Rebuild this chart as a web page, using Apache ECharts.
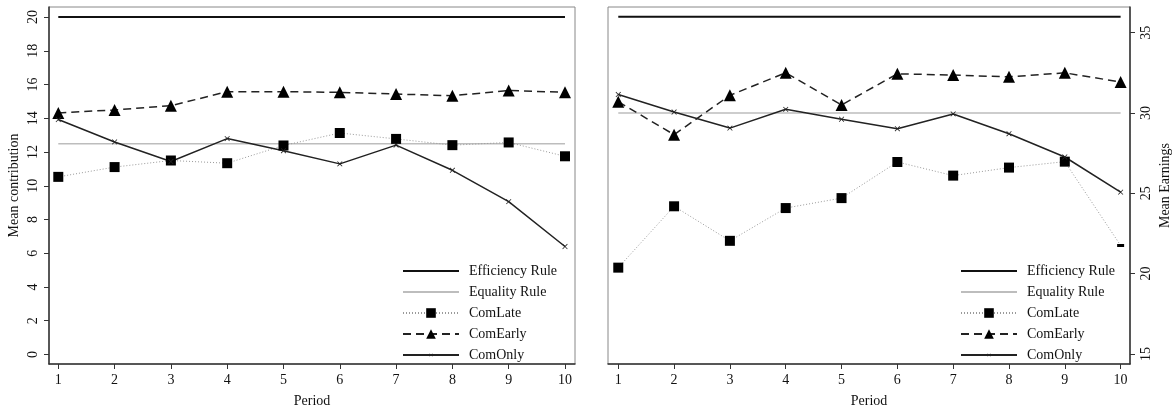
<!DOCTYPE html>
<html>
<head>
<meta charset="utf-8">
<script src="https://cdn.jsdelivr.net/npm/echarts@6/dist/echarts.min.js"></script>
<style>
  html, body { margin: 0; padding: 0; background: #fff; }
  #chart { width: 1173px; height: 413px; }
</style>
</head>
<body>
<div id="chart"></div>
<script>
// values
const periods = [1, 2, 3, 4, 5, 6, 7, 8, 9, 10]
const names = ["Efficiency Rule", "Equality Rule", "ComLate", "ComEarly", "ComOnly"]

const contribEfficiency = [20, 20, 20, 20, 20, 20, 20, 20, 20, 20]
const contribEquality = [12.5, 12.5, 12.5, 12.5, 12.5, 12.5, 12.5, 12.5, 12.5, 12.5]
const contribComLate = [10.53, 11.11, 11.5, 11.34, 12.39, 13.13, 12.78, 12.41, 12.57, 11.75]
const contribComEarly = [14.32, 14.5, 14.75, 15.58, 15.58, 15.54, 15.44, 15.34, 15.65, 15.54]
const contribComOnly = [13.93, 12.6, 11.44, 12.8, 12.08, 11.3, 12.41, 10.92, 9.06, 6.4]

const earnEfficiency = [36, 36, 36, 36, 36, 36, 36, 36, 36, 36]
const earnEquality = [30, 30, 30, 30, 30, 30, 30, 30, 30, 30]
const earnComLate = [20.37, 24.19, 22.04, 24.08, 24.7, 26.95, 26.1, 26.6, 26.97, 21.75]
const earnComEarly = [30.7, 28.65, 31.1, 32.5, 30.5, 32.44, 32.36, 32.25, 32.5, 31.93]
const earnComOnly = [31.15, 30.06, 29.06, 30.23, 29.61, 29.02, 29.94, 28.71, 27.26, 25.07]

const contribTicks = [0, 2, 4, 6, 8, 10, 12, 14, 16, 18, 20]
const earnTicks = [15, 20, 25, 30, 35]

const font = "Liberation Serif, Times New Roman, serif"
// small x in the middle of a 30x30 box (tiny corner specks keep the box size)
const crossPath = "path://M0,0L0.01,0L0,0.01Z M30,30L29.99,30L30,29.99Z " +
  "M10,11L11,10L15,14L19,10L20,11L16,15L20,19L19,20L15,16L11,20L10,19L14,15Z"

function pairs(vals) {
  return periods.map((p, i) => [p, vals[i]])
}

function panelSeries(idx, eff, eq, late, early, only) {
  const lateData = pairs(late)
  if (idx === 1) {
    // last ComLate marker on the right panel is drawn as a flat dash
    const last = lateData.length - 1
    lateData[last] = { value: lateData[last], symbol: "rect", symbolSize: [7, 3] }
  }
  return [
    {
      name: names[0], type: "line", xAxisIndex: idx, yAxisIndex: idx,
      data: pairs(eff), showSymbol: false, symbol: "none",
      lineStyle: { color: "#111", width: 2 }, itemStyle: { color: "#111" }
    },
    {
      name: names[1], type: "line", xAxisIndex: idx, yAxisIndex: idx,
      data: pairs(eq), showSymbol: false, symbol: "none",
      lineStyle: { color: "#bdbdbd", width: 1.5 }, itemStyle: { color: "#bdbdbd" }
    },
    {
      name: names[2], type: "line", xAxisIndex: idx, yAxisIndex: idx,
      data: lateData, symbol: "rect", symbolSize: 10,
      lineStyle: { color: "#9a9a9a", width: 1, type: [1, 2] },
      itemStyle: { color: "#000" }
    },
    {
      name: names[3], type: "line", xAxisIndex: idx, yAxisIndex: idx,
      data: pairs(early), symbol: "triangle", symbolSize: 12,
      lineStyle: { color: "#222", width: 1.5, type: [8, 5] },
      itemStyle: { color: "#000" }
    },
    {
      name: names[4], type: "line", xAxisIndex: idx, yAxisIndex: idx,
      data: pairs(only), symbol: crossPath, symbolSize: 16,
      lineStyle: { color: "#222", width: 1.5 },
      itemStyle: { color: "#222" }
    }
  ]
}

function legend(left) {
  return {
    orient: "vertical",
    left: left,
    top: 259,
    data: names.map((n, i) => i < 2 ? { name: n, itemStyle: { opacity: 0 } } : n),
    itemWidth: 56,
    itemHeight: 12,
    itemGap: 7,
    selectedMode: false,
    textStyle: { fontFamily: font, fontSize: 14, color: "#111", lineHeight: 14, padding: [0, 0, 0, 5] }
  }
}

const axisCommon = {
  type: "value",
  axisLine: { show: true, onZero: false, lineStyle: { color: "#333", width: 1.5 } },
  axisTick: { show: true, length: 5, lineStyle: { color: "#333", width: 1 } },
  splitLine: { show: false },
  axisLabel: { fontFamily: font, fontSize: 14, color: "#111" },
  nameTextStyle: { fontFamily: font, fontSize: 14, color: "#111" }
}

function xAxis(idx, min, max) {
  return Object.assign({}, axisCommon, {
    gridIndex: idx, min: min, max: max, position: "bottom",
    name: "Period", nameLocation: "middle", nameGap: 30,
    axisTick: Object.assign({}, axisCommon.axisTick, { customValues: periods }),
    axisLabel: Object.assign({}, axisCommon.axisLabel, { customValues: periods, margin: 9 })
  })
}

function yAxis(idx, min, max, ticks, pos, name) {
  return Object.assign({}, axisCommon, {
    gridIndex: idx, min: min, max: max, position: pos,
    name: name, nameLocation: "middle", nameGap: 28, nameRotate: 90,
    axisTick: Object.assign({}, axisCommon.axisTick, { customValues: ticks }),
    axisLabel: Object.assign({}, axisCommon.axisLabel, { customValues: ticks, rotate: 90, margin: 9 })
  })
}

const chart = echarts.init(document.getElementById("chart"), null, { renderer: "canvas" })
chart.setOption({
  animation: false,
  backgroundColor: "#fff",
  textStyle: { fontFamily: font },
  grid: [
    { left: 49, top: 7, width: 526, height: 364, show: true, borderColor: "#888", borderWidth: 1 },
    { left: 608, top: 7, width: 524, height: 362, show: true, borderColor: "#888", borderWidth: 1 }
  ],
  legend: [legend(397), legend(955)],
  xAxis: [xAxis(0, 0.835, 10.178), xAxis(1, 0.816, 10.168)],
  yAxis: [
    yAxis(0, -0.564, 20.6, contribTicks, "left", "Mean contribution"),
    yAxis(1, 14.37, 36.6, earnTicks, "right", "Mean Earnings")
  ],
  series: panelSeries(0, contribEfficiency, contribEquality, contribComLate, contribComEarly, contribComOnly)
    .concat(panelSeries(1, earnEfficiency, earnEquality, earnComLate, earnComEarly, earnComOnly))
})
</script>
</body>
</html>
